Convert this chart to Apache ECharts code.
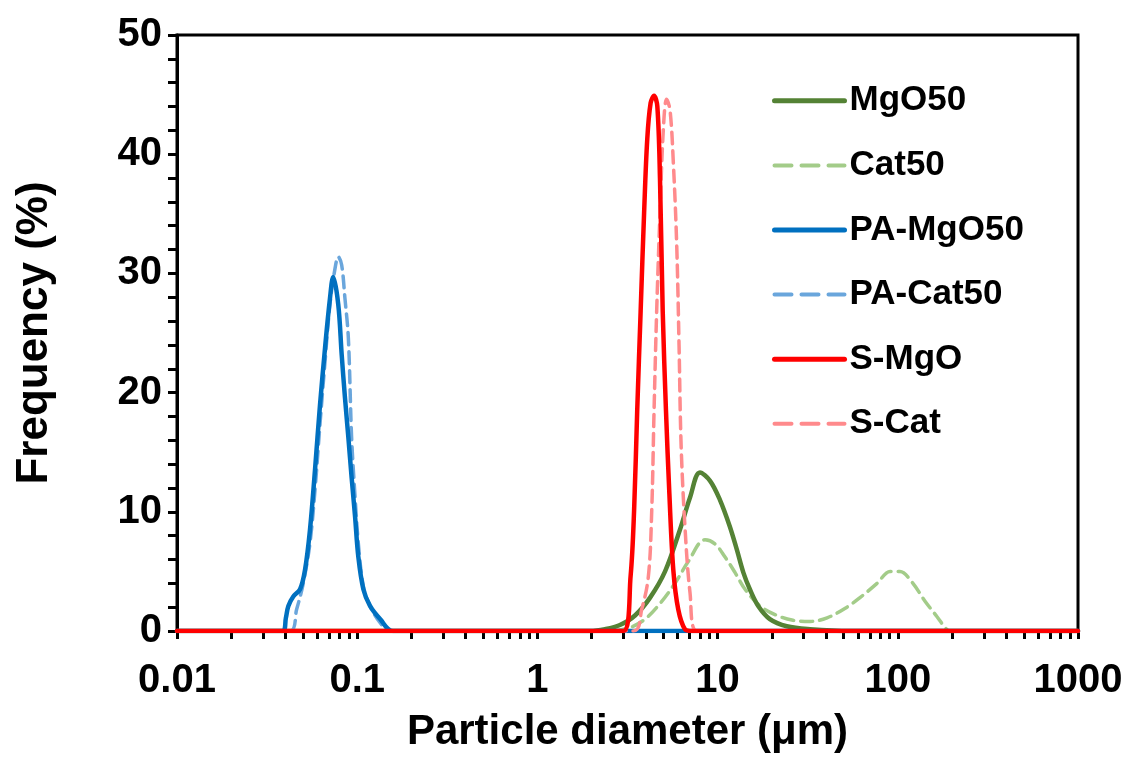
<!DOCTYPE html>
<html>
<head>
<meta charset="utf-8">
<script src="https://cdn.jsdelivr.net/npm/echarts@6/dist/echarts.min.js"></script>
<style>
html,body{margin:0;padding:0;background:#fff;}
#chart{width:1129px;height:758px;}
</style>
</head>
<body>
<div id="chart"></div>
<script>
// ---- data (x = particle diameter in µm, y = frequency in %) ----
const seriesNames = ['MgO50', 'Cat50', 'PA-MgO50', 'PA-Cat50', 'S-MgO', 'S-Cat'];
const dashedNames = ['Cat50', 'PA-Cat50', 'S-Cat'];

const mgo50X = [0.01, 1.96, 2.37, 2.87, 3.48, 4.22, 5.11, 6.18, 7.03, 7.98, 9.08, 10.3, 11.7, 12.8, 13.9, 15.1, 16.8, 19.5, 24.2, 32.6, 54.3, 1000];
const mgo50Y = [0, 0, 0.15, 0.5, 1.3, 2.8, 5.0, 8.5, 11.2, 13.3, 12.6, 11.0, 8.75, 6.8, 4.9, 3.5, 2.1, 1.0, 0.4, 0.15, 0, 0];

const cat50X = [0.01, 2.53, 3.27, 3.96, 4.79, 5.80, 6.86, 8.51, 9.68, 11.0, 12.5, 14.2, 17.2, 21.4, 26.2, 32.6, 40.5, 52.2, 61.7, 76.7, 90.6, 102.8, 119.9, 141.6, 165.1, 182.8, 195, 1000];
const cat50Y = [0, 0, 0.3, 1.0, 2.3, 4.0, 5.8, 7.65, 7.3, 6.2, 4.9, 3.5, 2.1, 1.3, 0.9, 0.8, 1.1, 2.0, 2.8, 4.0, 5.0, 5.0, 4.1, 2.5, 1.2, 0.3, 0, 0];

const paMgoX = [0.01, 0.0387, 0.0402, 0.0415, 0.0442, 0.0482, 0.0513, 0.0547, 0.0583, 0.0622, 0.0663, 0.0706, 0.0736, 0.0785, 0.0820, 0.0855, 0.0893, 0.0931, 0.0973, 0.1014, 0.1082, 0.1178, 0.134, 0.158, 1000];
const paMgoY = [0, 0, 1.1, 2.1, 2.9, 3.5, 5.1, 8.5, 13.5, 19.0, 23.75, 27.9, 29.7, 27.4, 23.2, 19.6, 16.25, 12.9, 9.6, 6.25, 3.5, 2.1, 1.0, 0, 0];

const paCatX = [0.01, 0.0424, 0.0461, 0.0502, 0.0547, 0.0583, 0.0622, 0.0663, 0.0706, 0.0753, 0.0785, 0.0820, 0.0855, 0.0893, 0.0931, 0.0973, 0.1014, 0.1082, 0.1178, 0.134, 0.152, 1000];
const paCatY = [0, 0, 1.8, 4.0, 7.4, 11.8, 17.4, 22.6, 27.4, 30.4, 31.4, 30.7, 27.9, 24.6, 16.25, 11.25, 7.4, 3.75, 2.1, 0.7, 0, 0];

const sMgoX = [0.01, 3.00, 3.29, 3.44, 3.58, 3.74, 3.91, 4.07, 4.25, 4.44, 4.63, 4.79, 4.96, 5.17, 5.40, 5.68, 6.05, 6.59, 7.2, 1000];
const sMgoY = [0, 0, 4.6, 10.1, 18.5, 26.8, 35.1, 41.25, 44.3, 44.9, 44.0, 37.9, 26.8, 18.5, 11.5, 5.1, 1.8, 0.15, 0, 0];

const sCatX = [0.01, 3.41, 3.79, 4.13, 4.31, 4.44, 4.59, 4.79, 5.00, 5.21, 5.44, 5.68, 5.93, 6.11, 6.27, 6.59, 7.03, 7.66, 1000];
const sCatY = [0, 0, 1.8, 4.6, 10.1, 18.5, 26.8, 35.1, 42.1, 44.6, 43.75, 39.3, 32.4, 24.0, 15.7, 8.75, 3.2, 0, 0];

// axis ticks / labels
const xDecades = [0.01, 0.1, 1, 10, 100, 1000];
const xMinorMultipliers = [2, 3, 4, 5, 6, 7, 8, 9];
const yTickValues = [0, 2, 4, 6, 8, 10, 12, 14, 16, 18, 20, 22, 24, 26, 28, 30, 32, 34, 36, 38, 40, 42, 44, 46, 48, 50];

const xTitle = 'Particle diameter (\u03bcm)';
const yTitle = 'Frequency (%)';

// ---- build ----
function pairs(xs, ys) { return xs.map((x, i) => [x, ys[i]]); }
const xTickValues = [];
xDecades.forEach((d, i) => {
  xTickValues.push(d);
  if (i < xDecades.length - 1) xMinorMultipliers.forEach(m => xTickValues.push(+(d * m).toPrecision(6)));
});

const FONT = 'Liberation Sans, Arial, sans-serif';
const chart = echarts.init(document.getElementById('chart'), null, { renderer: 'canvas' });

function lineSeries(name, xs, ys, color, dashed, z) {
  return {
    name: name,
    type: 'line',
    data: pairs(xs, ys),
    smooth: 0.35,
    showSymbol: false,
    symbol: 'none',
    z: z,
    lineStyle: {
      color: color,
      width: dashed ? 3.5 : 4.5,
      type: dashed ? [12, 7] : 'solid',
      cap: 'round',
      join: 'round'
    },
    itemStyle: { color: color },
    emphasis: { disabled: true }
  };
}

const option = {
  animation: false,
  backgroundColor: '#ffffff',
  grid: {
    left: 177, right: 51, top: 35, bottom: 123,
    show: true, borderColor: '#000', borderWidth: 3, backgroundColor: 'transparent'
  },
  legend: {
    data: seriesNames.map(n => dashedNames.indexOf(n) >= 0
      ? { name: n, lineStyle: { type: [17, 10], width: 4 } }
      : { name: n }),
    orient: 'vertical',
    left: 767,
    top: 75,
    itemWidth: 70,
    itemHeight: 14,
    itemGap: 23,
    itemStyle: { opacity: 0 },
    lineStyle: { width: 5 },
    textStyle: { fontFamily: FONT, fontWeight: 'bold', fontSize: 35, color: '#000', lineHeight: 41.6 }
  },
  xAxis: {
    type: 'log',
    logBase: 10,
    min: 0.01,
    max: 1000,
    name: xTitle,
    nameLocation: 'middle',
    nameGap: 80,
    nameTextStyle: { fontFamily: FONT, fontWeight: 'bold', fontSize: 42, color: '#000' },
    axisLine: { show: true, onZero: false, lineStyle: { color: '#000', width: 3 } },
    axisTick: { show: true, inside: false, length: 8, customValues: xTickValues, lineStyle: { color: '#000', width: 3 } },
    minorTick: { show: false },
    axisLabel: {
      margin: 30,
      fontFamily: FONT, fontWeight: 'bold', fontSize: 40, color: '#000',
      customValues: xDecades,
      formatter: v => String(+v.toPrecision(6))
    },
    splitLine: { show: false }
  },
  yAxis: {
    type: 'value',
    min: 0,
    max: 50,
    interval: 10,
    name: yTitle,
    nameLocation: 'middle',
    nameGap: 120,
    nameTextStyle: { fontFamily: FONT, fontWeight: 'bold', fontSize: 44, color: '#000' },
    axisLine: { show: true, lineStyle: { color: '#000', width: 3 } },
    axisTick: { show: true, inside: false, length: 9, customValues: yTickValues, lineStyle: { color: '#000', width: 3 } },
    axisLabel: { margin: 15, fontFamily: FONT, fontWeight: 'bold', fontSize: 40, color: '#000' },
    splitLine: { show: false }
  },
  series: [
    lineSeries('Cat50', cat50X, cat50Y, '#A3CC89', true, 2),
    lineSeries('MgO50', mgo50X, mgo50Y, '#548235', false, 3),
    lineSeries('PA-Cat50', paCatX, paCatY, '#6AA6DC', true, 4),
    lineSeries('PA-MgO50', paMgoX, paMgoY, '#0070C0', false, 5),
    lineSeries('S-Cat', sCatX, sCatY, '#FF8A8C', true, 6),
    lineSeries('S-MgO', sMgoX, sMgoY, '#FF0000', false, 7)
  ]
};
chart.setOption(option);
</script>
</body>
</html>
